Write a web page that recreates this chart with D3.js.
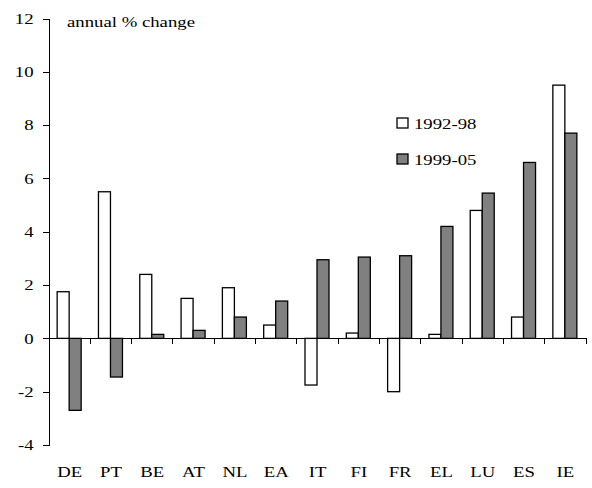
<!DOCTYPE html>
<meta charset="utf-8">
<style>
	body { margin: 0; background: #fff; }
	text { font-family: "Liberation Serif", "Times New Roman", serif; font-size: 15px; fill: #000; }
	.axis path, .axis line { stroke: #000; stroke-width: 1; shape-rendering: crispEdges; }
	.bar { stroke: #000; stroke-width: 1.3; }
</style>

<svg width="592" height="488"></svg>
<script src="https://d3js.org/d3.v7.min.js"></script>

<script>
	// the data
	var countries = ["DE", "PT", "BE", "AT", "NL", "EA", "IT", "FI", "FR", "EL", "LU", "ES", "IE"];
	var series = ["1992-98", "1999-05"];
	var v1992 = [1.75, 5.5, 2.4, 1.5, 1.9, 0.5, -1.75, 0.2, -2.0, 0.15, 4.8, 0.8, 9.5];
	var v1999 = [-2.7, -1.45, 0.15, 0.3, 0.8, 1.4, 2.95, 3.05, 3.1, 4.2, 5.45, 6.6, 7.7];
	var yTicks = [-4, -2, 0, 2, 4, 6, 8, 10, 12];
	var colors = ["#ffffff", "#808080"];

	var svg = d3.select("svg"),
	    sx = 1.25; // text in the picture is stretched sideways

	var x = d3.scaleBand().domain(countries).range([49, 586]),
	    y = d3.scaleLinear().domain([-4, 12]).range([445, 18.5]),
	    bw = x.bandwidth(),
	    x1 = d3.scaleBand().domain(series).range([bw / 2 - 12.5, bw / 2 + 11.5]);

	var rows = countries.map(function(c, i) { return {c: c, vals: [v1992[i], v1999[i]]}; });

	// y axis (plain hyphen for negatives, like the original)
	var gy = svg.append("g")
	    .attr("class", "axis")
	    .attr("transform", "translate(49,0)")
	    .call(d3.axisLeft(y).tickValues(yTicks).tickSize(6).tickSizeOuter(0)
	      .tickFormat(function(d) { return String(d); }));
	gy.selectAll("text")
	    .attr("x", -15.5 / sx)
	    .attr("transform", "scale(" + sx + ",1)");

	// bars
	var grp = svg.selectAll(".grp")
	    .data(rows)
	  .enter().append("g")
	    .attr("transform", function(d) { return "translate(" + x(d.c) + ",0)"; });

	grp.selectAll("rect")
	    .data(function(d) { return d.vals.map(function(v, k) { return {s: series[k], v: v, k: k}; }); })
	  .enter().append("rect")
	    .attr("class", "bar")
	    .attr("x", function(d) { return x1(d.s); })
	    .attr("width", x1.bandwidth())
	    .attr("y", function(d) { return y(Math.max(0, d.v)); })
	    .attr("height", function(d) { return Math.abs(y(d.v) - y(0)); })
	    .attr("fill", function(d) { return colors[d.k]; });

	// x axis at zero, ticks between the categories
	var gx = svg.append("g").attr("class", "axis");
	gx.append("line")
	    .attr("x1", 49).attr("x2", 586)
	    .attr("y1", y(0)).attr("y2", y(0));
	gx.selectAll(".tk")
	    .data(countries)
	  .enter().append("line")
	    .attr("x1", function(d) { return x(d) + bw; })
	    .attr("x2", function(d) { return x(d) + bw; })
	    .attr("y1", y(0)).attr("y2", y(0) + 6);

	// category labels
	svg.selectAll(".cat")
	    .data(countries)
	  .enter().append("text")
	    .attr("text-anchor", "middle")
	    .attr("transform", function(d) { return "translate(" + (x(d) + bw / 2) + ",477) scale(" + sx + ",1)"; })
	    .text(function(d) { return d; });

	// unit label
	svg.append("text")
	    .attr("transform", "translate(67,27) scale(" + sx + ",1)")
	    .text("annual % change");

	// legend
	var lg = svg.selectAll(".lg")
	    .data(series)
	  .enter().append("g")
	    .attr("transform", function(d, i) { return "translate(397," + (118 + i * 36) + ")"; });
	lg.append("rect")
	    .attr("width", 11).attr("height", 10)
	    .attr("fill", function(d, i) { return colors[i]; })
	    .attr("stroke", "#000").attr("stroke-width", 1.3);
	lg.append("text")
	    .attr("transform", "translate(17,11) scale(" + sx + ",1)")
	    .text(function(d) { return d; });
</script>
